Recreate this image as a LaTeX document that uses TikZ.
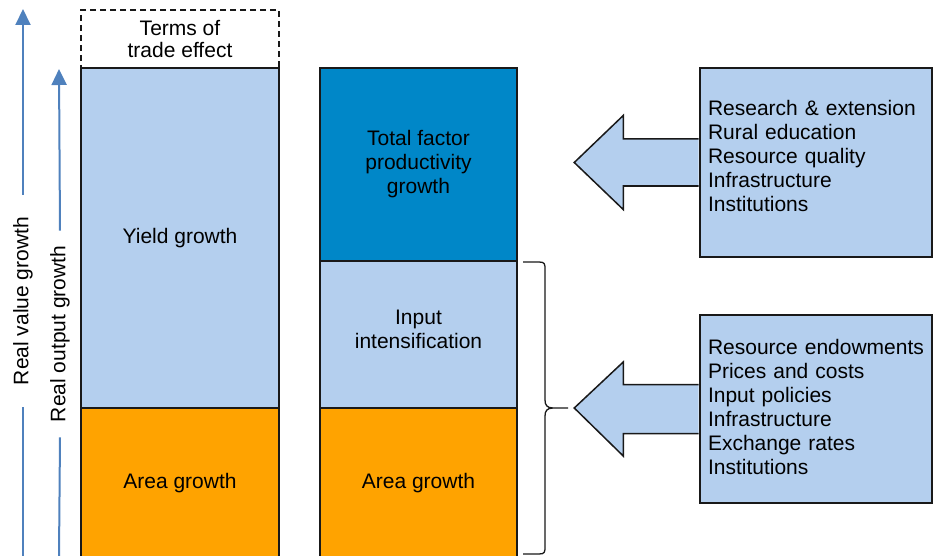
\documentclass[tikz,border=0pt]{standalone}
\usepackage{fontspec}
\setmainfont{Liberation Sans}
\usetikzlibrary{arrows.meta}
\definecolor{lblue}{RGB}{180,207,238}
\definecolor{dblue}{RGB}{0,135,200}
\definecolor{orng}{RGB}{255,163,0}
\definecolor{axblue}{RGB}{79,129,189}
\tikzset{
  col/.style={draw=black!90, line width=1.5pt, minimum width=198pt, inner sep=0pt, align=center},
  factor/.style={draw=black!90, fill=lblue, line width=1.5pt, minimum width=232pt,
    text width=216pt, inner xsep=8pt, inner ysep=0pt, align=left},
  axlabel/.style={rotate=90, inner ysep=0pt},
  axline/.style={draw=axblue, line width=2pt},
  blockarrow/.style={draw=black!90, fill=lblue, line width=1.5pt},
}
\begin{document}
\begin{tikzpicture}[x=1pt, y=-1pt, font=\fontsize{21}{24}\selectfont]
  \useasboundingbox (0,0) rectangle (936,556);
  \draw
    (180,39.5) node[col, dashed, dash pattern=on 6pt off 4pt, minimum height=59pt] (tot) {Terms of\\[-2pt]trade effect}
    (180,238) node[col, fill=lblue, minimum height=340pt] (yield) {Yield growth}
    (180,483) node[col, fill=orng, minimum height=150pt] (areaL) {Area growth}
    (418.5,164.5) node[col, fill=dblue, minimum width=197pt, minimum height=193pt] (tfp) {Total factor\\productivity\\growth}
    (418.5,334.5) node[col, fill=lblue, minimum width=197pt, minimum height=147pt, text depth=10pt] (input) {Input\\intensification}
    (418.5,483) node[col, fill=orng, minimum width=197pt, minimum height=150pt] (areaM) {Area growth};
  \coordinate (vbot) at (23,556);
  \coordinate (vtop) at (23,9);
  \coordinate (obot) at (59,556);
  \coordinate (otop) at (59,69);
  \node[axlabel, inner xsep=22pt] (vlab) at (23,301) {Real value growth};
  \node[axlabel, inner xsep=15pt] (olab) at (60,334) {Real output growth};
  \begin{scope}[axline]
    \draw (vbot) -- (vlab.west);
    \draw[-{Triangle[length=16pt,width=15pt]}] (vlab.east) -- (vtop);
    \draw (obot) -- (olab.west);
    \draw[-{Triangle[length=16pt,width=15pt]}] (olab.east) -- (otop);
  \end{scope}
  \draw
    (816,162.5) node[factor, minimum height=189pt, text depth=110pt] (tfpf) {Research \& extension\\Rural education\\Resource quality\\Infrastructure\\Institutions}
    (816,409) node[factor, minimum height=188pt, text depth=124pt] (inpf) {Resource endowments\\Prices and costs\\Input policies\\Infrastructure\\Exchange rates\\Institutions};
  \draw[blockarrow, shift={(tfpf.west)}] (-0.75,-23.5) -- (-76,-23.5) -- (-76,-47) -- (-125,0) -- (-76,47) -- (-76,23.5) -- (-0.75,23.5);
  \draw[blockarrow, shift={(inpf.west)}] (-0.75,-24.5) -- (-76,-24.5) -- (-76,-47) -- (-125,-1) -- (-76,47) -- (-76,24.5) -- (-0.75,24.5);
  \draw[line width=1.3pt, black!90]
    (523,262) -- (539,262) .. controls (545,262) and (545,264) .. (545,270) -- (545,400)
    .. controls (545,405) and (547,408) .. (553,408) -- (568,408)
    (523,554) -- (539,554) .. controls (545,554) and (545,552) .. (545,546) -- (545,416)
    .. controls (545,411) and (547,408) .. (553,408);
\end{tikzpicture}
\end{document}
